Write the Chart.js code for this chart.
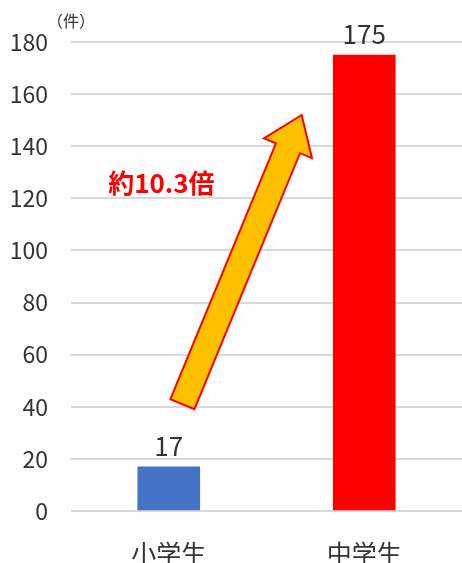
<!DOCTYPE html>
<html>
<head>
<meta charset="utf-8">
<script src="https://cdn.jsdelivr.net/npm/chart.js@4"></script>
<style>
  html, body { margin: 0; padding: 0; background: #fff; }
  #wrap { width: 462px; height: 563px; }
</style>
</head>
<body>
<div id="wrap"><canvas id="grafico"></canvas></div>
<script>
const categorias = ['小学生', '中学生'];
const casos = [17, 175];
const coloresBarras = ['#4472C4', '#FF0000'];
const ticksY = [0, 20, 40, 60, 80, 100, 120, 140, 160, 180];
const unidad = '（件）';
const textoRazon = '約10.3倍';
// flecha en coordenadas de datos: [indice categoria, valor]
const flechaDesde = [0.07, 41];
const flechaHasta = [0.68, 152];
const posTexto = [-0.31, 126];

const fuente = '"Noto Sans CJK JP", "Noto Sans", sans-serif';

const extras = {
  id: 'extras',
  afterDatasetsDraw(chart) {
    const c = chart.ctx;
    const x = chart.scales.x, y = chart.scales.y;
    // etiquetas de valores
    c.save();
    c.font = '26px ' + fuente;
    c.fillStyle = '#333';
    c.textAlign = 'center';
    c.textBaseline = 'alphabetic';
    chart.getDatasetMeta(0).data.forEach((bar, i) => {
      c.fillText(String(casos[i]), bar.x, bar.y - 11);
    });
    // unidad
    c.font = '16px ' + fuente;
    c.textAlign = 'left';
    c.textBaseline = 'middle';
    c.fillText(unidad, 47, 21);
    // flecha
    const x0 = x.getPixelForValue(flechaDesde[0]), y0 = y.getPixelForValue(flechaDesde[1]);
    const x1 = x.getPixelForValue(flechaHasta[0]), y1 = y.getPixelForValue(flechaHasta[1]);
    const ang = Math.atan2(y1 - y0, x1 - x0);
    const len = Math.hypot(x1 - x0, y1 - y0);
    const hw = 13, hh = 26, hl = 36;
    c.translate(x0, y0);
    c.rotate(ang);
    c.beginPath();
    c.moveTo(0, -hw);
    c.lineTo(len - hl, -hw);
    c.lineTo(len - hl, -hh);
    c.lineTo(len, 0);
    c.lineTo(len - hl, hh);
    c.lineTo(len - hl, hw);
    c.lineTo(0, hw);
    c.closePath();
    c.fillStyle = '#FFC000';
    c.fill();
    c.lineWidth = 2;
    c.lineJoin = 'miter';
    c.strokeStyle = '#FF0000';
    c.stroke();
    c.restore();
    // texto de razon
    c.save();
    c.font = 'bold 26px ' + fuente;
    c.fillStyle = '#FF0000';
    c.textAlign = 'left';
    c.textBaseline = 'middle';
    c.fillText(textoRazon, x.getPixelForValue(posTexto[0]), y.getPixelForValue(posTexto[1]));
    c.restore();
  }
};

const ctx = document.getElementById('grafico').getContext('2d');
const grafico = new Chart(ctx, {
  type: 'bar',
  data: {
    labels: categorias,
    datasets: [{
      data: casos,
      backgroundColor: coloresBarras,
      barThickness: 62
    }]
  },
  options: {
    responsive: true,
    maintainAspectRatio: false,
    animation: false,
    layout: { padding: { top: 42, right: 0, bottom: 0, left: 0 } },
    plugins: {
      legend: { display: false },
      tooltip: { enabled: false }
    },
    scales: {
      y: {
        min: 0,
        max: 180,
        afterBuildTicks(axis) { axis.ticks = ticksY.map(v => ({ value: v })); },
        afterFit(axis) { axis.width = 71; },
        border: { display: false },
        grid: { color: '#d9d9d9', lineWidth: 2, drawTicks: false },
        ticks: { padding: 23, color: '#333', font: { family: fuente, size: 23 } }
      },
      x: {
        afterFit(axis) { axis.height = 52; },
        border: { display: false },
        grid: { display: false, drawTicks: false },
        ticks: { padding: 27, color: '#333', font: { family: fuente, size: 25 } }
      }
    }
  },
  plugins: [extras]
});
</script>
</body>
</html>
